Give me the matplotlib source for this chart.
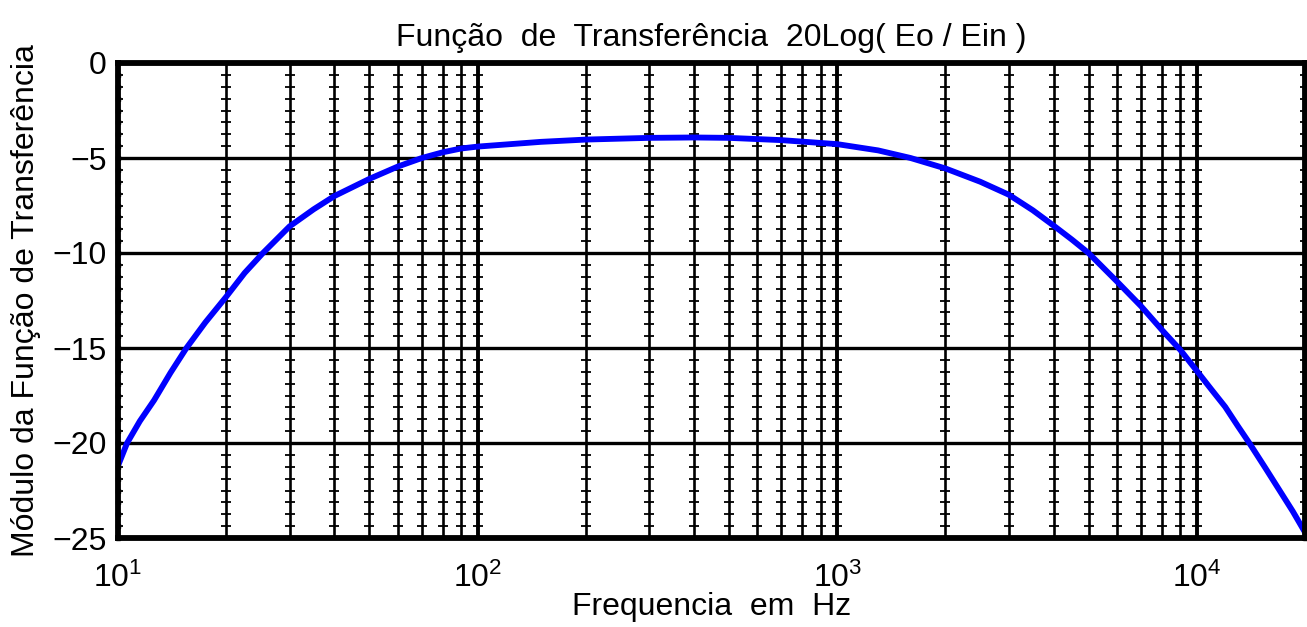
import numpy as np
import matplotlib
matplotlib.use("Agg")
import matplotlib.pyplot as plt
from matplotlib.ticker import FixedLocator, FixedFormatter, NullFormatter

plt.rcParams['font.family'] = ['Liberation Sans', 'DejaVu Sans']

# Data
freq_hz = [10, 10.6, 11.5, 12.6, 14, 15.5, 17.5, 20, 22.5, 25.3, 30, 35, 40,
           50, 60, 70, 80, 90, 100, 150, 200, 300, 400, 500, 700, 1000, 1300,
           1600, 2000, 2500, 3000, 3500, 4000, 4500, 5000, 6000, 7000, 8000,
           9000, 10000, 11000, 12000, 13000, 14000, 15500, 17000, 18500, 20000]
gain_db = [-21.2, -20.0, -18.85, -17.75, -16.3, -15.0, -13.65, -12.3, -11.05,
           -10.0, -8.6, -7.7, -7.0, -6.1, -5.45, -5.0, -4.7, -4.5, -4.4, -4.15,
           -4.03, -3.94, -3.92, -3.94, -4.06, -4.27, -4.6, -5.0, -5.55, -6.25,
           -6.93, -7.75, -8.56, -9.3, -10.0, -11.5, -12.8, -14.05, -15.1, -16.2,
           -17.2, -18.1, -19.1, -20.0, -21.3, -22.5, -23.6, -24.7]

y_ticks = [0, -5, -10, -15, -20, -25]
y_tick_labels = ['0', '\u22125', '\u221210', '\u221215', '\u221220', '\u221225']
x_major = [10, 100, 1000, 10000]
x_major_labels = [r'$\mathregular{10^{1}}$', r'$\mathregular{10^{2}}$',
                  r'$\mathregular{10^{3}}$', r'$\mathregular{10^{4}}$']

title = 'Função  de  Transferência  20Log( Eo / Ein )'
xlabel = 'Frequencia  em  Hz'
ylabel = 'Módulo da Função de Transferência'

fig = plt.figure(figsize=(13.07, 6.27), dpi=100)
ax = fig.add_axes([118/1307, 1-538/627, (1305-118)/1307, 475/627])
ax.set_xscale('log')
ax.set_xlim(10, 20000)
ax.set_ylim(-25, 0)

# vertical grid lines at every decade subdivision
minor_pos = [m * 10**e for e in range(1, 5) for m in range(1, 10)
             if 10 <= m * 10**e <= 20000]
dots_y = np.linspace(0, -25, 41)
for xv in minor_pos:
    lw = 2.8 if xv in x_major else 1.9
    ax.axvline(xv, color='black', lw=lw, zorder=1)
    ax.plot([xv]*len(dots_y), dots_y, ls='none', marker='_', ms=7, mew=1.3,
            color='black', zorder=1)
for yv in y_ticks:
    ax.axhline(yv, color='black', lw=2.4, zorder=1)

# dotted edge marks along left/right spines
ax.plot([10]*len(dots_y), dots_y, ls='none', marker='s', ms=3.5, color='black',
        zorder=3, clip_on=False)
ax.plot([20000]*len(dots_y), dots_y, ls='none', marker='s', ms=3.5, color='black',
        zorder=3, clip_on=False)

ax.plot(freq_hz, gain_db, color='#0000ff', lw=4.2, zorder=4,
        solid_joinstyle='round')

ax.xaxis.set_major_locator(FixedLocator(x_major))
ax.xaxis.set_major_formatter(FixedFormatter(x_major_labels))
ax.xaxis.set_minor_formatter(NullFormatter())
ax.set_yticks(y_ticks)
ax.set_yticklabels(y_tick_labels)
ax.tick_params(axis='both', which='both', length=0, labelsize=23)
ax.tick_params(axis='x', pad=18)
ax.tick_params(axis='y', pad=8)

for s in ax.spines.values():
    s.set_linewidth(4.2)
    s.set_color('black')
    s.set_zorder(5)

ax.set_title(title, fontsize=23, pad=12)
ax.set_xlabel(xlabel, fontsize=23, labelpad=-2)
ax.set_ylabel(ylabel, fontsize=23, labelpad=8)

fig.savefig('out.png', dpi=100)
